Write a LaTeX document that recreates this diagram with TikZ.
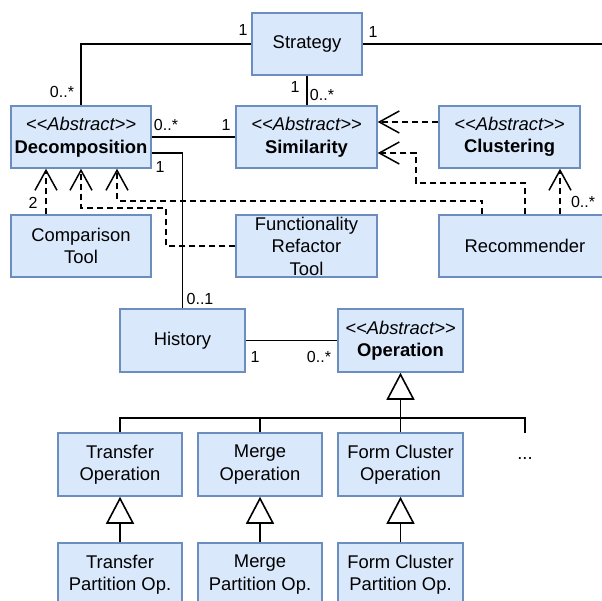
\documentclass[tikz,border=0pt]{standalone}
\usepackage{fontspec}
\setmainfont{Liberation Sans}
\usetikzlibrary{arrows.meta}
\definecolor{boxfill}{HTML}{DAE8FC}
\definecolor{boxline}{HTML}{6C8EBF}
\newcommand{\stereotype}{{\itshape <\kern0pt<Abstract>\kern0pt>}}
\begin{document}
\begin{tikzpicture}[x=1pt,y=-1pt,
  cls/.style={draw=boxline, fill=boxfill, line width=1.5pt, align=center,
    font=\fontsize{18.4}{22.5}\selectfont, inner sep=0pt},
  lbl/.style={font=\fontsize{16}{19}\selectfont, inner sep=0pt},
  assoc/.style={draw=black, line width=1.6pt},
  dep/.style={draw=black, line width=1.5pt, dash pattern=on 6pt off 4pt,
    -{Straight Barb[length=20pt,width=22pt,line width=1.5pt]}},
  inh/.style={draw=black, line width=1.6pt,
    -{Triangle[open,length=27pt,width=28pt,fill=white,line width=1.6pt]}}]
\useasboundingbox (0,0) rectangle (602,600);
\clip (0,0) rectangle (602,600);

% classes
\node[cls, minimum width=110, minimum height=62] (strategy) at (307,44) {Strategy};
\node[cls, minimum width=140, minimum height=62] (decomp) at (81,137) {\stereotype\\\textbf{Decomposition}};
\node[cls, minimum width=141, minimum height=62] (similarity) at (306.5,137) {\stereotype\\\textbf{Similarity}};
\node[cls, minimum width=141, minimum height=62] (clustering) at (509.5,137) {\stereotype\\\textbf{Clustering}};
\node[cls, minimum width=140, minimum height=62] (comparison) at (81,246) {Comparison\\Tool};
\node[cls, minimum width=141, minimum height=62] (frt) at (306.5,246) {Functionality\\Refactor\\Tool};
\node[cls, minimum width=172, minimum height=62] (recommender) at (525,246) {Recommender};
\node[cls, minimum width=125, minimum height=63] (history) at (182.5,340.5) {History};
\node[cls, minimum width=125, minimum height=63] (operation) at (400.5,340.5) {\stereotype\\\textbf{Operation}};
\node[cls, minimum width=124, minimum height=63] (transfer) at (120,464.5) {Transfer\\Operation};
\node[cls, minimum width=124, minimum height=63] (merge) at (260,464.5) {Merge\\Operation};
\node[cls, minimum width=125, minimum height=63] (formcluster) at (400.5,464.5) {Form Cluster\\Operation};
\node[font=\fontsize{18.4}{22.5}\selectfont, inner sep=0pt, minimum height=52] (dots) at (525,459) {...};
\node[cls, minimum width=124, minimum height=63] (transferpart) at (120,574.5) {Transfer\\Partition Op.};
\node[cls, minimum width=124, minimum height=63] (mergepart) at (260,574.5) {Merge\\Partition Op.};
\node[cls, minimum width=125, minimum height=63] (formclusterpart) at (400.5,574.5) {Form Cluster\\Partition Op.};

% associations
\coordinate (offright) at (612,44);
\draw[assoc] (strategy.west) -| (decomp.north);
\draw[assoc] (strategy.east) -- (offright);
\draw[assoc] (strategy.south) -- (strategy.south |- similarity.north);
\draw[assoc] (decomp.east) -- (similarity.west);
\draw[assoc] ([yshift=-16pt]decomp.east) -| (history.north);
\draw[assoc] (history.east) -- (operation.west);

% dependencies
\draw[dep] ([yshift=15pt]clustering.west) -- ([yshift=15pt]similarity.east);
\draw[dep] (recommender.north) |- (416,183) |- ([yshift=-16pt]similarity.east);
\draw[dep] ([xshift=35pt]recommender.north) -- ([xshift=50.5pt]clustering.south);
\draw[dep] ([xshift=-43pt]recommender.north) |- ([xshift=36pt,yshift=-32pt]decomp.south) -- ([xshift=36pt]decomp.south);
\draw[dep] (frt.west) -| (166,208) -| (decomp.south);
\draw[dep] ([xshift=-35pt]comparison.north) -- ([xshift=-35pt]decomp.south);

% generalisation tree
\coordinate (junction) at (400.5,418);
\draw[assoc] (transfer.north) |- (junction);
\draw[assoc] (merge.north) |- (junction);
\draw[assoc] (formcluster.north) -- (junction);
\draw[assoc] (dots.north) |- (junction);
\draw[inh] (junction) -- (operation.south);
\draw[inh] (transferpart.north) -- (transfer.south);
\draw[inh] (mergepart.north) -- (merge.south);
\draw[inh] (formclusterpart.north) -- (formcluster.south);

% multiplicities
\node[lbl] (m1) at (243,30) {1};
\node[lbl] (m2) at (62,92) {0..*};
\node[lbl] (m3) at (373,32) {1};
\node[lbl] (m4) at (295,87) {1};
\node[lbl] (m5) at (322,95) {0..*};
\node[lbl] (m6) at (166,125) {0..*};
\node[lbl] (m7) at (226,125) {1};
\node[lbl] (m8) at (160,167) {1};
\node[lbl] (m9) at (200,299) {0..1};
\node[lbl] (m10) at (255,357) {1};
\node[lbl] (m11) at (319,357) {0..*};
\node[lbl] (m12) at (583,202) {0..*};
\node[lbl] (m13) at (33,203) {2};
\end{tikzpicture}
\end{document}
